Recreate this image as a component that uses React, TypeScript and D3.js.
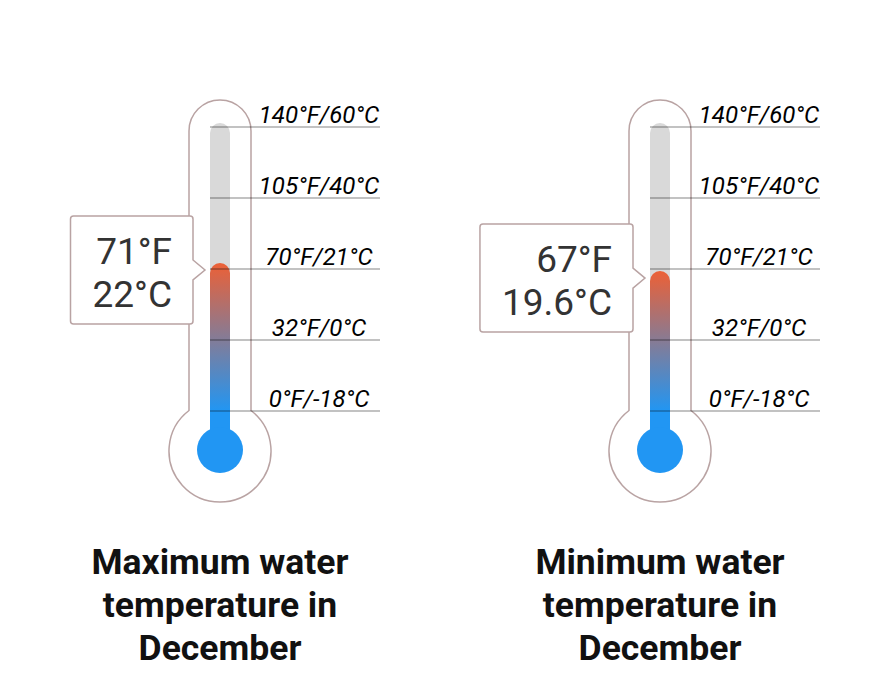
import React, { useEffect, useRef } from "react";
import * as d3 from "d3";

const titles = [
  ["Maximum water", "temperature in", "December"],
  ["Minimum water", "temperature in", "December"],
];
const valuesF = [71, 67];
const valuesC = ["22", "19.6"];
const tickLabels = ["140°F/60°C", "105°F/40°C", "70°F/21°C", "32°F/0°C", "0°F/-18°C"];
const scaleDomainF = [0, 140];

const W = 880;
const H = 680;

export default function App() {
  const ref = useRef<SVGSVGElement | null>(null);

  useEffect(() => {
    const svg = d3.select(ref.current);
    svg.selectAll("*").remove();
    const defs = svg.append("defs");

    const centers = d3.scalePoint<number>().domain([0, 1]).range([220, 660]);
    const yTick = d3.scalePoint<string>().domain(tickLabels).range([127, 411]);
    const yVal = d3.scaleLinear().domain(scaleDomainF).range([411, 127]);

    const stemR = 31;
    const stemTop = 100;
    const bulbCy = 451;
    const bulbR = 51;
    const trackW = 20;
    const trackTop = 123;
    const innerR = 23;
    const outline = "#b9a3a3";

    valuesF.forEach((vF, i) => {
      const cx = centers(i)!;
      const g = svg.append("g");
      const joinY = bulbCy - Math.sqrt(bulbR * bulbR - stemR * stemR);
      const p = d3.path();
      p.moveTo(cx - stemR, stemTop + stemR);
      p.arc(cx, stemTop + stemR, stemR, Math.PI, 0);
      p.lineTo(cx + stemR, joinY);
      const a0 = Math.atan2(joinY - bulbCy, stemR);
      const a1 = Math.atan2(joinY - bulbCy, -stemR);
      p.arc(cx, bulbCy, bulbR, a0, a1, false);
      p.closePath();
      g.append("path").attr("d", p.toString()).attr("fill", "#fff").attr("stroke", outline).attr("stroke-width", 1.5);

      // track
      g.append("rect")
        .attr("x", cx - trackW / 2).attr("y", trackTop)
        .attr("width", trackW).attr("height", bulbCy - trackTop)
        .attr("rx", trackW / 2).attr("fill", "#d9d9d9");

      const vy = yVal(vF);
      const fillTop = vy - 4;
      const gid = "grad" + i;
      const grad = defs.append("linearGradient").attr("id", gid)
        .attr("gradientUnits", "userSpaceOnUse")
        .attr("x1", 0).attr("x2", 0).attr("y1", fillTop).attr("y2", yTick(tickLabels[tickLabels.length - 1])!);
      grad.append("stop").attr("offset", 0).attr("stop-color", "#ec6036");
      grad.append("stop").attr("offset", 1).attr("stop-color", "#2196f3");

      g.append("rect")
        .attr("x", cx - trackW / 2).attr("y", fillTop)
        .attr("width", trackW).attr("height", bulbCy - fillTop)
        .attr("rx", trackW / 2).attr("fill", `url(#${gid})`);
      g.append("circle").attr("cx", cx).attr("cy", bulbCy - 1).attr("r", innerR).attr("fill", "#2196f3");

      // gridlines + labels
      tickLabels.forEach((t) => {
        const y = yTick(t)!;
        g.append("line")
          .attr("x1", cx - trackW / 2).attr("x2", cx + 160)
          .attr("y1", y).attr("y2", y)
          .attr("stroke", "rgba(0,0,0,0.32)").attr("stroke-width", 1.5);
        g.append("text")
          .attr("x", cx + 99).attr("y", y - 4)
          .attr("text-anchor", "middle")
          .attr("font-family", "Roboto, sans-serif")
          .attr("font-style", "italic")
          .attr("font-size", 24)
          .attr("fill", "#000")
          .text(t);
      });

      // tooltip box
      const tipX = cx - trackW / 2 - 5;
      const tipY = vy + 3;
      const bx1 = tipX - 12;
      const tg = svg.append("g");
      const boxPath = tg.append("path");
      const textRight = bx1 - 21;
      const t1 = tg.append("text")
        .attr("x", textRight).attr("y", tipY - 6)
        .attr("text-anchor", "end")
        .attr("font-family", "Roboto, sans-serif")
        .attr("font-size", 37)
        .attr("fill", "#333")
        .text(`${vF}°F`);
      const t2 = tg.append("text")
        .attr("x", textRight).attr("y", tipY + 37)
        .attr("text-anchor", "end")
        .attr("font-family", "Roboto, sans-serif")
        .attr("font-size", 37)
        .attr("fill", "#333")
        .text(`${valuesC[i]}°C`);
      const tw = Math.max(
        (t1.node() as SVGTextElement).getComputedTextLength(),
        (t2.node() as SVGTextElement).getComputedTextLength()
      );
      const bx0 = textRight - tw - 22;
      const by0 = tipY - 54;
      const by1 = tipY + 54;
      const r = 3;
      const bp = d3.path();
      bp.moveTo(bx0 + r, by0);
      bp.lineTo(bx1 - r, by0);
      bp.arcTo(bx1, by0, bx1, by0 + r, r);
      bp.lineTo(bx1, tipY - 10);
      bp.lineTo(tipX, tipY);
      bp.lineTo(bx1, tipY + 10);
      bp.lineTo(bx1, by1 - r);
      bp.arcTo(bx1, by1, bx1 - r, by1, r);
      bp.lineTo(bx0 + r, by1);
      bp.arcTo(bx0, by1, bx0, by1 - r, r);
      bp.lineTo(bx0, by0 + r);
      bp.arcTo(bx0, by0, bx0 + r, by0, r);
      bp.closePath();
      boxPath.attr("d", bp.toString()).attr("fill", "#fff").attr("stroke", outline).attr("stroke-width", 1.5);

      // title
      titles[i].forEach((line, k) => {
        svg.append("text")
          .attr("x", cx).attr("y", 574 + k * 43)
          .attr("text-anchor", "middle")
          .attr("font-family", "Roboto, sans-serif")
          .attr("font-weight", 700)
          .attr("font-size", 35.5)
          .attr("fill", "#111")
          .text(line);
      });
    });
  }, []);

  return (
    <div style={{ position: "fixed", left: 0, top: 0, width: W, height: H, background: "#fff" }}>
      <svg ref={ref} width={W} height={H} />
    </div>
  );
}
